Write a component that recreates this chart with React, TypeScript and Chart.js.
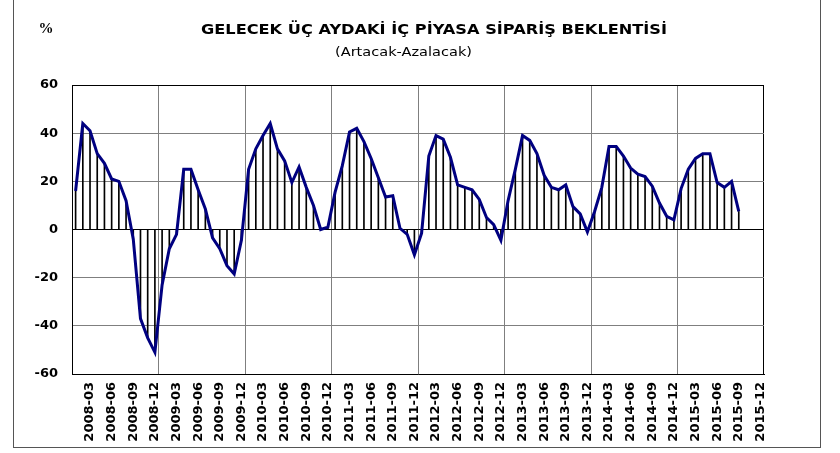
import React, { useEffect, useRef } from "react";
import { Chart, registerables } from "chart.js";

Chart.register(...registerables);

const YEARS = ["2008", "2009", "2010", "2011", "2012", "2013", "2014", "2015"];
const MONTHS = ["01", "02", "03", "04", "05", "06", "07", "08", "09", "10", "11", "12"];
const CATEGORIES = YEARS.flatMap((y) => MONTHS.map((m) => `${y}-${m}`));
const LABEL_MONTHS = ["03", "06", "09", "12"];

// 2008-01 .. 2015-09
const VALUES = [
  16, 44, 41, 31.5, 27.5, 21, 20, 12, -4, -37, -45, -51,
  -23, -8, -2, 25, 25, 16.5, 8.5, -3.5, -8, -15, -18.5, -4.5,
  25, 33.5, 39, 44, 33.5, 28.5, 19.5, 26, 17.5, 10, 0, 1,
  15.5, 26.5, 40.5, 42, 36.5, 29.5, 21.5, 13.5, 14, 0.5, -2, -10.5,
  -1.5, 30.5, 39, 37.5, 30, 18.5, 17.5, 16.5, 12.5, 5, 2, -4.5,
  12, 25, 39, 37, 31.5, 22.5, 17.5, 16.5, 18.5, 9.5, 6.5, -1,
  7.5, 17.5, 34.5, 34.5, 30.5, 25.5, 23, 22, 18, 11, 5.5, 4,
  17, 25, 29.5, 31.5, 31.5, 19.5, 17.5, 20, 7.5,
];

const Y_MIN = -60;
const Y_MAX = 60;
const Y_STEP = 20;

const TITLE = "GELECEK ÜÇ AYDAKİ İÇ PİYASA SİPARİŞ BEKLENTİSİ";
const SUBTITLE = "(Artacak-Azalacak)";
const UNIT = "%";

function fitText(ctx: CanvasRenderingContext2D, text: string, cx: number, y: number, width: number) {
  const w = ctx.measureText(text).width;
  ctx.save();
  ctx.translate(cx, y);
  ctx.scale(width / w, 1);
  ctx.textAlign = "center";
  ctx.fillText(text, 0, 0);
  ctx.restore();
}

const textPlugin = {
  id: "textPlugin",
  afterDraw(chart: any) {
    const ctx = chart.ctx;
    ctx.save();
    ctx.fillStyle = "#000";
    ctx.textBaseline = "alphabetic";
    ctx.font = 'bold 14.5px "DejaVu Sans"';
    fitText(ctx, TITLE, 434, 33.5, 466);
    ctx.font = '13px "DejaVu Sans"';
    fitText(ctx, SUBTITLE, 403.5, 55.5, 137);
    ctx.textAlign = "center";
    ctx.font = 'bold 15px "Liberation Serif"';
    ctx.fillText(UNIT, 46, 33);
    ctx.restore();
  },
};

export default function App() {
  const ref = useRef<HTMLCanvasElement | null>(null);

  useEffect(() => {
    if (!ref.current) return;
    const chart = new Chart(ref.current, {
      data: {
        labels: CATEGORIES,
        datasets: [
          {
            type: "line",
            data: VALUES,
            borderColor: "#000080",
            borderWidth: 3,
            pointRadius: 0,
            tension: 0,
            order: 0,
          } as any,
          {
            type: "bar",
            data: VALUES,
            backgroundColor: "#000",
            barThickness: 1,
            order: 1,
          } as any,
        ],
      },
      options: {
        animation: false,
        responsive: false,
        devicePixelRatio: 1,
        layout: { padding: { top: 85, right: 76, left: 0, bottom: 0 } },
        plugins: {
          legend: { display: false },
          tooltip: { enabled: false },
        },
        scales: {
          x: {
            type: "category",
            offset: true,
            grid: {
              offset: true,
              drawTicks: false,
              lineWidth: 1,
              color: (c: any) => {
                if (c.index === undefined) return "#000";
                if (c.index === 0) return "#000";
                return c.index % 12 === 0 ? "#7f7f7f" : "rgba(0,0,0,0)";
              },
            },
            border: { color: "#000", width: 1 },
            ticks: {
              autoSkip: false,
              maxRotation: 90,
              minRotation: 90,
              padding: 8,
              color: "#000",
              font: { family: '"DejaVu Sans"', size: 13, weight: "bold" },
              callback: (_v: any, i: number) => {
                const lab = CATEGORIES[i];
                return LABEL_MONTHS.includes(lab.slice(5)) ? lab : "";
              },
            },
            afterFit: (s: any) => {
              s.height = 79;
            },
          },
          y: {
            min: Y_MIN,
            max: Y_MAX,
            grid: {
              drawTicks: false,
              lineWidth: 1,
              color: (c: any) =>
                c.tick && (c.tick.value === 0 || c.tick.value === Y_MAX) ? "#000" : "#7f7f7f",
            },
            border: { color: "#000", width: 1 },
            ticks: {
              stepSize: Y_STEP,
              padding: 14,
              color: "#000",
              font: { family: '"DejaVu Sans"', size: 13, weight: "bold" },
            },
            afterFit: (s: any) => {
              s.width = 72;
            },
          },
        },
      } as any,
      plugins: [textPlugin],
    });
    return () => chart.destroy();
  }, []);

  return (
    <div style={{ position: "fixed", left: 0, top: 0, width: 840, height: 453, background: "#fff" }}>
      <div
        style={{
          position: "absolute",
          left: 13,
          top: 0,
          width: 806,
          height: 447,
          borderLeft: "1px solid #555",
          borderRight: "1px solid #555",
          borderBottom: "1px solid #555",
        }}
      />
      <canvas ref={ref} width={840} height={453} style={{ position: "absolute", left: 0, top: 0 }} />
    </div>
  );
}
